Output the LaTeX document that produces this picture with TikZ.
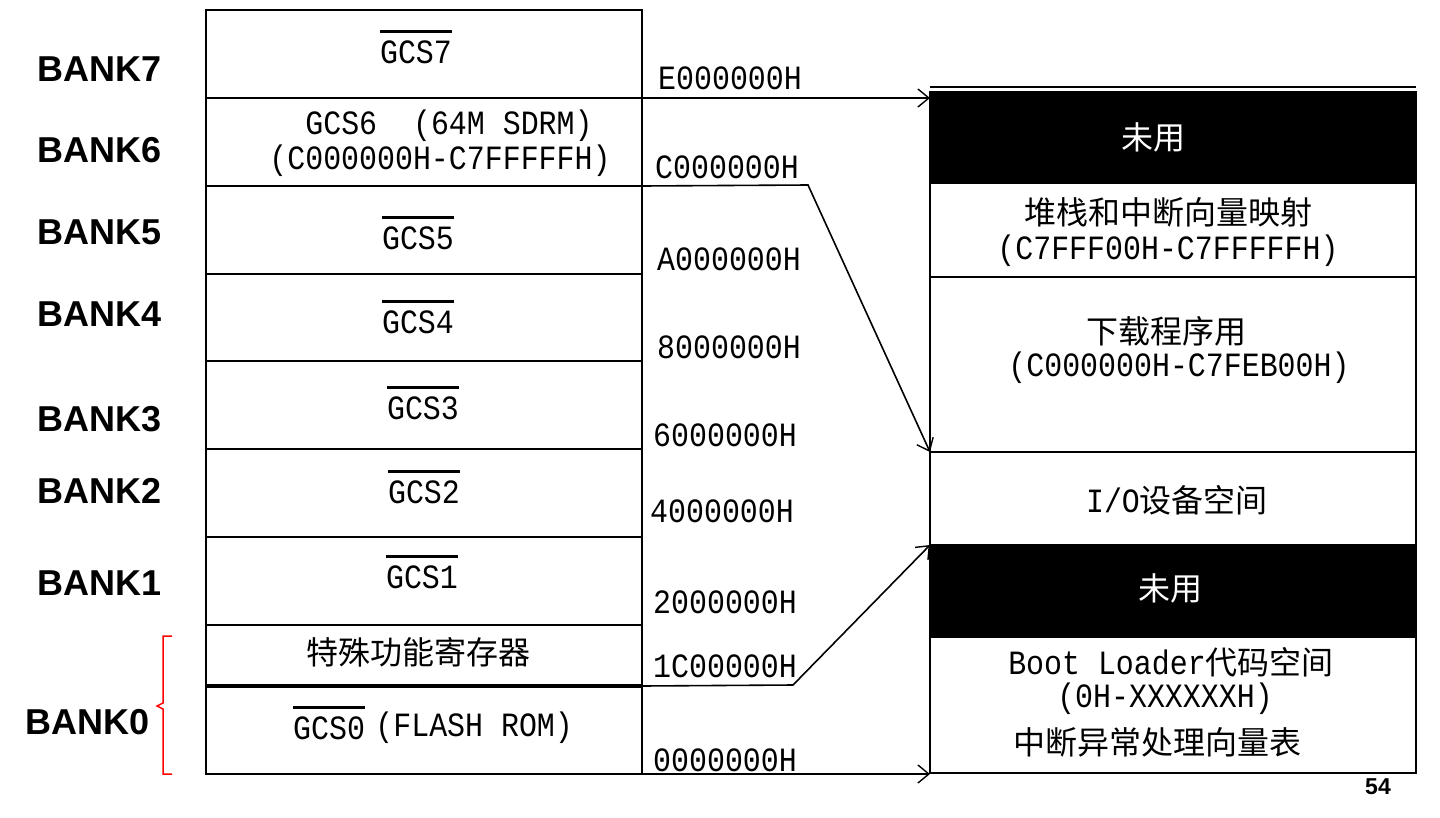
\documentclass[tikz,border=0pt]{standalone}
\usepackage{fontspec}
\usetikzlibrary{arrows.meta}
\setmainfont{Liberation Sans}
\newfontfamily\mono[FakeStretch=0.88]{Liberation Mono}
\newfontfamily\cjk{Noto Sans CJK SC}
\newfontfamily\bankfont{Liberation Sans}
\newcommand\zh[1]{{\cjk\fontsize{32}{35}\selectfont #1}}
\begin{document}
\begin{tikzpicture}[x=1pt,y=-1pt,
  lcell/.style={draw, line width=2pt, inner sep=0, outer sep=0, minimum width=436, minimum height=#1},
  rcell/.style={draw, line width=2pt, inner sep=0, outer sep=0, minimum width=486, minimum height=#1},
  blk/.style={fill=black},
  mtext/.style={font={\mono\fontsize{34}{37}\selectfont}, inner sep=0, text=black},
  bank/.style={font={\bankfont\bfseries\fontsize{36}{40}\selectfont}, inner sep=0, anchor=west},
  addr/.style={mtext, anchor=west},
  ovl/.style={line width=3pt},
  arr/.style={line width=1.6pt, -{Straight Barb[length=11pt,width=18pt,line width=1.4pt]}}
]
\useasboundingbox (0,0) rectangle (1440,817);
% left column
\node[lcell=88] (b7) at (424,54) {};
\node[lcell=88] (b6) at (424,142) {};
\node[lcell=88] (b5) at (424,230) {};
\node[lcell=87] (b4) at (424,317.5) {};
\node[lcell=88] (b3) at (424,405) {};
\node[lcell=88] (b2) at (424,493) {};
\node[lcell=88] (b1) at (424,581) {};
\node[lcell=61] (sfr) at (424,655.5) {};
\node[lcell=88] (b0) at (424,730) {};
\draw[line width=4pt] (sfr.south west) -- (sfr.south east);
% left texts
\node[mtext] (t7) at (416,52) {GCS7};
\node[mtext] (t6a) at (449,126) {GCS6\ \ (64M SDRM)};
\node[mtext] (t6b) at (440,161) {(C000000H-C7FFFFFH)};
\node[mtext] (t5) at (418,238) {GCS5};
\node[mtext] (t4) at (418,322) {GCS4};
\node[mtext] (t3) at (423,408) {GCS3};
\node[mtext] (t2) at (424,492) {GCS2};
\node[mtext] (t1) at (422,577) {GCS1};
\node[inner sep=0] (tsfr) at (418,652) {\zh{特殊功能寄存器}};
\node[mtext, anchor=west] (t0) at (293,728) {GCS0};
\node[mtext, anchor=west] (t0b) at ([xshift=10]t0.east) {(FLASH ROM)};
\foreach \t in {t7,t5,t4,t3,t2,t1,t0}
  \draw[ovl] ([yshift=9]\t.north west) -- ([yshift=9]\t.north east);
% bank labels
\node[bank] (k7) at (37,69) {BANK7};
\node[bank] (k6) at (37,150) {BANK6};
\node[bank] (k5) at (37,232) {BANK5};
\node[bank] (k4) at (37,314) {BANK4};
\node[bank] (k3) at (37,419) {BANK3};
\node[bank] (k2) at (37,491) {BANK2};
\node[bank] (k1) at (37,583) {BANK1};
\node[bank] (k0) at (25,722) {BANK0};
\draw[red, line width=1.5pt] (172,636) -- (163,636) -- (163,703) -- (157,706) -- (163,709) -- (163,774) -- (172,774);
% addresses
\node[addr] (aE) at (658,78) {E000000H};
\node[addr] (aC) at (655,167) {C000000H};
\node[addr] (aA) at (657,259) {A000000H};
\node[addr] (a8) at (657,347) {8000000H};
\node[addr] (a6) at (653,435) {6000000H};
\node[addr] (a4) at (650,511) {4000000H};
\node[addr] (a2) at (653,602) {2000000H};
\node[addr] (a1C) at (653,666) {1C00000H};
\node[addr] (a0) at (653,760) {0000000H};
% right column
\draw[line width=1.5pt] (930,87) -- (1416,87);
\node[rcell=91, blk] (u1) at (1173,137.5) {};
\node[rcell=94] (stk) at (1173,230) {};
\node[rcell=175] (dl) at (1173,364.5) {};
\node[rcell=93] (io) at (1173,498.5) {};
\node[rcell=92, blk] (u2) at (1173,591) {};
\node[rcell=136] (boot) at (1173,705) {};
% right texts
\node[inner sep=0] (r1) at (1153,137) {\zh{\color{white}未用}};
\node[inner sep=0] (r2a) at (1168,212) {\zh{堆栈和中断向量映射}};
\node[mtext] (r2b) at (1168,251) {(C7FFF00H-C7FFFFFH)};
\node[inner sep=0] (r3a) at (1166,331) {\zh{下载程序用}};
\node[mtext] (r3b) at (1179,368) {(C000000H-C7FEB00H)};
\node[mtext] (r4) at (1177,500) {I/O\zh{设备空间}};
\node[inner sep=0] (r5) at (1170,588) {\zh{\color{white}未用}};
\node[mtext] (r6a) at (1171,662) {Boot Loader\zh{代码空间}};
\node[mtext] (r6b) at (1165,699) {(0H-XXXXXXH)};
\node[inner sep=0] (r6c) at (1157,742) {\zh{中断异常处理向量表}};
% connectors
\coordinate (kC) at (808,185);
\coordinate (k1) at (793,685);
\draw[arr] (b7.south east) -- (b7.south east -| u1.west);
\draw[arr] (b6.south east) -- (kC) -- (io.north west);
\draw[arr] (sfr.south east) -- (k1) -- (u2.north west);
\draw[arr] (b0.south east) -- (b0.south east -| boot.west);
% page number
\node[font={\bankfont\bfseries\fontsize{23}{25}\selectfont}, inner sep=0] (pg) at (1378,787) {54};
\end{tikzpicture}
\end{document}
